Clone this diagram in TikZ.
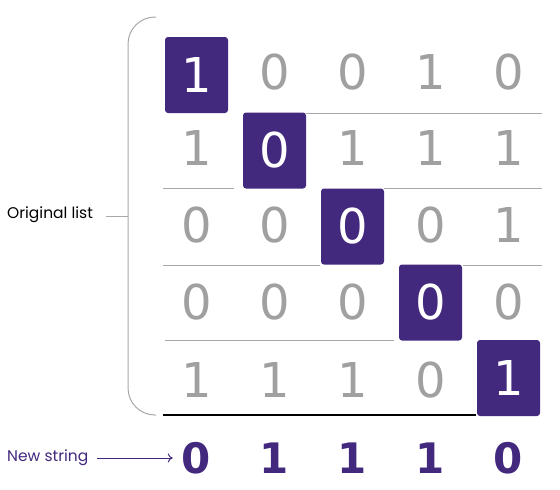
\documentclass[tikz,border=0pt]{standalone}
\usepackage{fontspec}
\setmainfont{Poppins}
\newfontfamily\digitfont{DejaVu Sans}
\usetikzlibrary{arrows.meta}
\definecolor{purp}{HTML}{43297E}
\definecolor{dgray}{HTML}{A0A0A0}
\definecolor{lgray}{HTML}{A8A8A8}
\tikzset{
  cell/.style={inner sep=0pt, text=dgray, font=\digitfont\fontsize{48}{48}\selectfont},
  hcell/.style={fill=purp, rounded corners=3pt, minimum width=63pt, minimum height=76pt, inner sep=0pt, text=white, font=\digitfont\fontsize{48}{48}\selectfont},
  res/.style={inner sep=0pt, text=purp, font=\digitfont\bfseries\fontsize{42}{42}\selectfont},
  sep/.style={draw=lgray, line width=1pt},
  lbl/.style={inner sep=0pt, font=\fontsize{15.5}{17}\selectfont, anchor=west}
}
\begin{document}
\begin{tikzpicture}[x=1pt,y=-1pt]
\useasboundingbox (0,0) rectangle (560,490);
% highlighted cells
\node[hcell] (h1) at (196.5,75) {1};
\node[hcell] (h2) at (274.5,150.5) {0};
\node[hcell] (h3) at (352.5,226.5) {0};
\node[hcell] (h4) at (430.5,302.5) {0};
\node[hcell] (h5) at (508.5,378) {1};
% row 1
\node[cell] (c12) at (274.5,72) {0};
\node[cell] (c13) at (352.5,72) {0};
\node[cell] (c14) at (430.5,72) {1};
\node[cell] (c15) at (508.5,72) {0};
% row 2
\node[cell] (c21) at (196.5,148) {1};
\node[cell] (c23) at (352.5,148) {1};
\node[cell] (c24) at (430.5,148) {1};
\node[cell] (c25) at (508.5,148) {1};
% row 3
\node[cell] (c31) at (196.5,225) {0};
\node[cell] (c32) at (274.5,225) {0};
\node[cell] (c34) at (430.5,225) {0};
\node[cell] (c35) at (508.5,225) {1};
% row 4
\node[cell] (c41) at (196.5,302) {0};
\node[cell] (c42) at (274.5,302) {0};
\node[cell] (c43) at (352.5,302) {0};
\node[cell] (c45) at (508.5,302) {0};
% row 5
\node[cell] (c51) at (196.5,380) {1};
\node[cell] (c52) at (274.5,380) {1};
\node[cell] (c53) at (352.5,380) {1};
\node[cell] (c54) at (430.5,380) {0};
% separators
\draw[sep] (306,113) -- (542,113);
\draw[sep] (163,188) -- (234,188);
\draw[sep] (384,188) -- (542,188);
\draw[sep] (163,265) -- (320,265);
\draw[sep] (463,265) -- (542,265);
\draw[sep] (165,340) -- (394,340);
\draw[black, line width=2pt] (163,415) -- (476,415);
% bracket
\draw[lgray, line width=1pt, rounded corners=27pt] (156,17) -- (128,17) -- (128,415) -- (156,415);
\coordinate (bt) at (128,216);
\coordinate (bl) at (106,216);
\draw[lgray, line width=1pt] (bl) -- (bt);
\node[lbl] (ol) at (7,215) {Original list};
% new string
\node[lbl, text=purp] (ns) at (7,458) {New string};
\node[res] (r1) at (196.5,458) {0};
\node[res] (r2) at (274.5,458) {1};
\node[res] (r3) at (352.5,458) {1};
\node[res] (r4) at (430.5,458) {1};
\node[res] (r5) at (508.5,458) {0};
\draw[purp, line width=1pt, shorten <=9pt, shorten >=9pt, -{To[length=5pt,width=9pt]}] (ns.east) -- (ns.east -| r1.west);
\end{tikzpicture}
\end{document}
